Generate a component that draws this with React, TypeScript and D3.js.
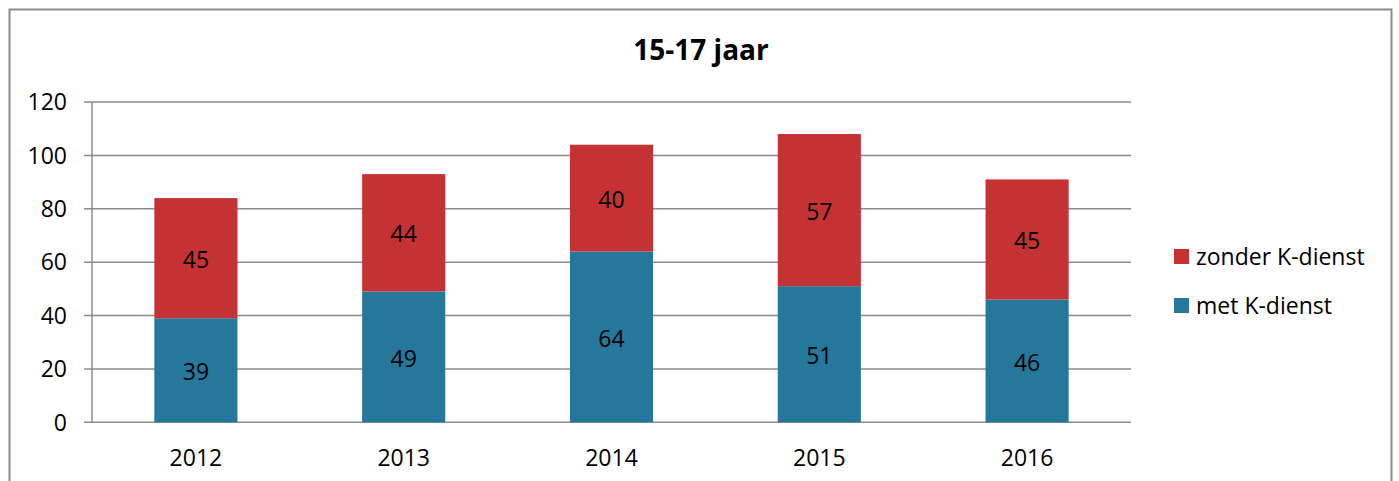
import React from "react";
import * as d3 from "d3";

const categories = ["2012", "2013", "2014", "2015", "2016"];
const metKDienst = [39, 49, 64, 51, 46];
const zonderKDienst = [45, 44, 40, 57, 45];
const yTicks = [0, 20, 40, 60, 80, 100, 120];
const seriesNames = ["met K-dienst", "zonder K-dienst"];
const title = "15-17 jaar";

const W = 1399;
const H = 481;
const RED = "#C43234";
const BLUE = "#25789C";
const GRID = "#8c8c8c";
const FONT = "'Open Sans', 'Noto Sans', sans-serif";

export default function App() {
  const left = 92;
  const right = 1131;
  const top = 102;
  const bottom = 422.3;

  const x = d3.scaleBand<string>().domain(categories).range([left, right]).padding(0);
  const y = d3.scaleLinear().domain([0, 120]).range([bottom, top]);
  const barW = x.step() * 0.4;

  const rows = categories.map((c, i) => ({ cat: c, met: metKDienst[i], zonder: zonderKDienst[i] }));
  const stack = d3.stack<any>().keys(["met", "zonder"])(rows);
  const colors = [BLUE, RED];

  return (
    <svg width={W} height={H} style={{ position: "absolute", left: 0, top: 0, background: "#fff" }} fontFamily={FONT}>
      <rect x={9.5} y={9.5} width={1382} height={500} fill="#fff" stroke={GRID} strokeWidth={2} />
      <text x={701} y={60} textAnchor="middle" fontWeight="bold" fontSize={28} fill="#000">{title}</text>
      {yTicks.map((t) => (
        <g key={t}>
          <line x1={84} x2={right} y1={y(t)} y2={y(t)} stroke={GRID} strokeWidth={1.5} />
          <text x={67} y={y(t)} dy="0.36em" textAnchor="end" fontSize={23} fill="#000">{t}</text>
        </g>
      ))}
      <line x1={left} x2={left} y1={top} y2={bottom} stroke={GRID} strokeWidth={1.5} />
      {stack.map((s, si) =>
        s.map((d, i) => {
          const cx = x(categories[i])! + x.bandwidth() / 2;
          const y0 = y(d[0]);
          const y1 = y(d[1]);
          const v = d[1] - d[0];
          return (
            <g key={si + "-" + i}>
              <rect x={cx - barW / 2} y={y1} width={barW} height={y0 - y1} fill={colors[si]} />
              <text x={cx} y={(y0 + y1) / 2} dy="0.42em" textAnchor="middle" fontSize={23} fill="#000">{v}</text>
            </g>
          );
        })
      )}
      {categories.map((c) => (
        <text key={c} x={x(c)! + x.bandwidth() / 2} y={466} textAnchor="middle" fontSize={23} fill="#000">{c}</text>
      ))}
      {[1, 0].map((si, k) => (
        <g key={si}>
          <rect x={1174} y={249 + k * 49} width={15} height={15} fill={colors[si]} />
          <text x={1196} y={256.5 + k * 49} dy="0.36em" fontSize={23} fill="#000">{seriesNames[si]}</text>
        </g>
      ))}
    </svg>
  );
}
